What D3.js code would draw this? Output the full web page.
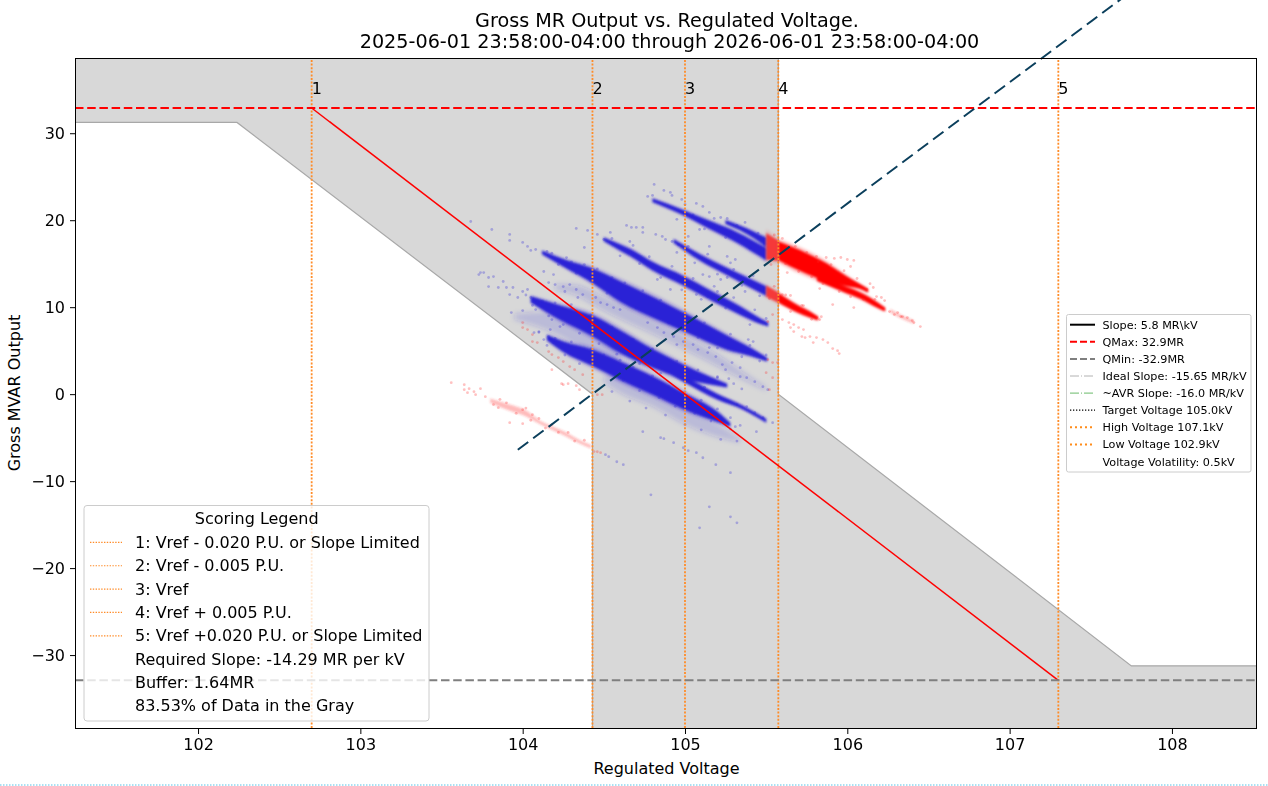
<!DOCTYPE html>
<html><head><meta charset="utf-8">
<script src="https://cdn.jsdelivr.net/npm/d3@7"></script>
<style>
html,body{margin:0;padding:0;background:#fff;overflow:hidden}
svg{display:block}
text{font-family:"DejaVu Sans",sans-serif;fill:#000}
</style></head><body>
<svg id="c" width="1268" height="786"></svg>
<script>
// ---- chart values ----
const titleLines = ["Gross MR Output vs. Regulated Voltage.", "2025-06-01 23:58:00-04:00 through 2026-06-01 23:58:00-04:00"];
const xDomain = [101.242, 108.524];
const yDomain = [-38.5, 38.65];
const xTickValues = [102,103,104,105,106,107,108];
const yTickValues = [-30,-20,-10,0,10,20,30];
const qMax = 32.9, qMin = -32.9;
const scoreX = [102.7,104.43,105,105.575,107.3];
const scoreLabels = ["1","2","3","4","5"];
const grayRegion = [[101.242,38.65],[105.575,38.65],[105.575,0],[107.75,-31.24],[108.524,-31.24],[108.524,-38.5],[104.43,-38.5],[104.43,0],[102.24,31.24],[101.242,31.24]];
const requiredLine = [[102.7,32.9],[107.3,-32.9]];
const slopeLine = [[103.97,-6.4],[107.72,45.9]];
const rightLegendLabels = ["Slope: 5.8 MR\\kV","QMax: 32.9MR","QMin: -32.9MR","Ideal Slope: -15.65 MR/kV","~AVR Slope: -16.0 MR/kV","Target Voltage 105.0kV","High Voltage 107.1kV","Low Voltage 102.9kV","Voltage Volatility: 0.5kV"];
const leftLegendTitle = "Scoring Legend";
const leftLegendLabels = ["1: Vref - 0.020 P.U. or Slope Limited","2: Vref - 0.005 P.U.","3: Vref","4: Vref + 0.005 P.U.","5: Vref +0.020 P.U. or Slope Limited","Required Slope: -14.29 MR per kV","Buffer: 1.64MR","83.53% of Data in the Gray"];

// dense runs of the scatter: [voltage, MVAR, half-thickness in MVAR]
const blueRuns = [
 [[104.8,22.3,.1],[104.988,20.89,.25],[105.173,19.28,.4],[105.321,18.01,.5],[105.5,16.1,.6]],
 [[105.25,19.8,.12],[105.42,18.36,.3],[105.5,17.44,.45]],
 [[104.93,17.6,.15],[105.093,15.71,.3],[105.259,14.1,.35],[105.37,13.06,.4],[105.5,11.85,.45]],
 [[104.5,17.8,.12],[104.6,16.86,.3],[104.662,16.29,.35],[104.803,14.68,.4],[104.988,13.06,.45],[105.173,11.22,.45],[105.34,9.61,.4],[105.432,8.69,.3],[105.512,8.0,.15]],
 [[104.12,16.28,.15],[104.274,14.9,.4],[104.428,13.64,.7],[104.6,11.8,1.0],[104.847,9.6,1.0],[105.001,8.23,.9],[105.259,5.93,.7],[105.401,4.89,.4],[105.506,3.97,.15]],
 [[104.05,10.9,.3],[104.23,9.38,.7],[104.428,7.88,1.0],[104.6,6.04,1.1],[104.803,4.09,.9],[104.988,2.59,.7],[105.136,1.67,.4],[105.259,.98,.12]],
 [[104.92,2.4,.15],[104.988,1.78,.25],[105.198,-.29,.25],[105.358,-1.55,.15],[105.5,-3.05,.08]],
 [[104.15,6.5,.25],[104.249,5.47,.5],[104.428,4.2,.8],[104.6,2.7,.9],[104.803,.98,.9],[104.988,-.75,.8],[105.198,-2.59,.5],[105.278,-3.51,.15]]
];
// thin clouds beside the dense runs
const blueHaze = [
 [[104.5,1.7,.3],[104.6,1.09,.8],[104.803,-.4,.9],[105.0,-2.47,.9],[105.259,-4.66,.5],[105.34,-5.35,.1]],
 [[104.2,12.3,.3],[104.32,12.0,.5],[104.5,10.4,.7],[104.77,8.0,.7],[105.0,5.9,.7],[105.2,3.9,.6],[105.35,2.2,.4],[105.5,.6,.1]],
 [[103.95,8.9,.3],[104.15,8.4,.9],[104.43,6.2,1.3],[104.6,4.6,1.0]]
];
const redRunsInGray = [
 [[105.5,17.0,1.3],[105.575,16.5,1.0]],
 [[105.5,11.85,.55],[105.575,11.1,.5]]
];
const redRuns = [
 [[105.575,16.5,.9],[105.709,15.36,1.0],[105.876,13.98,.85],[105.987,13.06,.5],[106.079,12.37,.22],[106.128,11.9,.06]],
 [[105.814,13.4,.3],[105.974,12.14,.3],[106.079,11.34,.3],[106.19,10.19,.25],[106.233,9.72,.08]],
 [[105.575,11.1,.45],[105.691,9.84,.35],[105.771,9.15,.28],[105.82,8.69,.12]]
];
const redHaze = [
 [[103.8,-.75,.2],[103.92,-1.55,.3],[104.01,-2.13,.3],[104.11,-3.28,.15],[104.26,-4.55,.2],[104.35,-5.47,.15],[104.42,-6.04,.1]],
 [[106.264,9.6,.08],[106.33,8.92,.12],[106.41,8.3,.12]]
];
// individual scattered readings
const bluePointsX = [103.68,103.81,103.92,103.92,104.0,104.03,104.08,104.05,104.33,104.4,104.38,103.74,103.76,103.73,103.79,103.79,103.82,103.88,103.85,103.9,103.92,103.94,104.0,103.97,104.03,104.05,104.09,104.0,103.93,104.08,104.16,104.2,104.25,104.29,104.33,104.26,104.37,104.45,104.34,104.48,104.52,104.56,104.6,104.3,104.13,104.19,104.77,104.83,104.87,104.93,104.99,104.95,105.05,105.08,105.14,105.19,105.15,105.23,105.29,105.34,105.25,105.42,105.39,105.34,105.38,105.43,105.48,105.51,105.27,105.2,105.32,105.38,105.43,105.48,105.54,105.31,105.44,104.74,104.85,104.87,104.93,104.99,105.02,105.07,105.11,105.19,105.28,104.79,105.15,105.28,105.32,105.09,104.51,104.53,104.58,104.62,104.77,104.8,104.81,104.87,104.91,104.92,104.98,105.0,105.07,105.11,105.15,105.22,105.26,105.37,105.09,104.64,104.67,104.7,104.74,104.74,104.82,104.86,104.88,104.92,104.96,105.02,105.15,105.26,105.31,105.11,105.15,105.26,105.22,105.3,104.83,104.91,105.07,105.14,105.2,105.37,104.46,104.5,104.54,104.66,104.16,104.13,104.19,104.07,104.1,104.17,104.23,104.18];
const bluePointsY = [19.85,18.93,18.36,17.67,17.44,16.98,16.63,16.52,19.05,18.82,16.86,13.98,13.98,13.75,13.41,12.37,13.52,12.95,12.26,12.26,11.45,12.26,11.8,11.11,12.03,11.11,10.65,9.61,9.38,9.73,12.83,12.6,12.37,12.6,12.03,11.8,11.45,11.11,11.11,10.53,10.3,9.96,9.73,10.3,14.1,13.75,8.23,7.65,7.08,6.62,6.04,5.7,5.7,5.12,4.78,4.32,5.35,3.4,3.63,3.05,2.82,6.04,6.27,2.01,1.9,1.44,.86,.52,1.78,2.01,-1.21,-1.44,-2.13,-2.7,-3.28,-3.74,-4.32,-4.32,-5.0,-5.12,-5.58,-6.16,-6.5,-6.73,-7.31,-8.11,-9.03,-11.57,-12.95,-14.1,-14.79,-15.37,-6.96,-7.19,-7.77,-8.11,22.73,22.85,24.11,23.42,23.19,22.85,22.39,21.81,21.93,21.58,20.89,20.31,20.2,19.74,18.93,19.4,19.17,19.17,19.17,18.59,18.36,18.13,17.78,17.55,17.2,18.13,16.98,15.83,15.48,13.75,13.52,13.41,13.18,14.33,13.18,12.03,11.45,11.22,11.8,11.8,18.36,17.78,18.59,17.55,6.62,6.27,5.93,7.08,7.19,7.42,7.77,8.57];
const blueFringe = [[104.15,16.4],[104.18,16.2],[104.22,14.9],[104.27,15.7],[104.3,15.2],[104.33,13.9],[104.38,14.9],[104.42,13.0],[104.46,14.4],[104.52,11.6],[104.55,13.4],[104.63,12.8],[104.7,9.9],[104.74,11.9],[104.85,10.8],[104.9,8.2],[105.0,9.4],[105.08,6.5],[105.12,8.2],[105.2,5.3],[105.28,6.9],[105.35,4.3],[105.4,5.6],[105.46,3.8],[105.5,4.5],
[104.02,11.4],[104.06,10.2],[104.12,10.7],[104.16,9.0],[104.2,10.5],[104.25,8.0],[104.3,9.8],[104.35,7.0],[104.42,9.1],[104.47,5.8],[104.55,7.7],[104.58,4.6],[104.68,6.3],[104.72,3.5],[104.8,5.2],[104.85,2.4],[104.95,3.8],[105.0,1.4],[105.08,2.8],[105.12,.8],[105.2,1.9],[105.3,1.2],[105.35,.6],
[104.1,7.1],[104.15,5.6],[104.2,6.4],[104.26,4.5],[104.3,6.0],[104.35,3.5],[104.42,5.2],[104.5,4.5],[104.6,3.9],[104.68,3.1],[104.8,2.1],[104.9,.9],[105.0,.3],[105.1,-.7],[105.2,-1.7],[105.28,-2.7],[105.34,-3.6],
[104.55,.3],[104.62,1.6],[104.66,-.8],[104.72,.4],[104.76,-1.6],[104.84,-.4],[104.88,-2.4],[104.94,-1.4],[105.0,-3.5],[105.06,-2.2],[105.1,-4.1],[105.16,-3.1],[105.22,-5.2],[105.28,-4.0],[105.32,-5.4],
[104.55,17.9],[104.6,15.9],[104.68,17.1],[104.72,15.0],[104.78,15.8],[104.85,13.4],[104.92,14.7],[104.98,12.0],[105.05,13.3],[105.1,10.9],[105.18,12.4],[105.25,9.9],[105.3,11.1],[105.4,8.0],[105.43,9.7],[105.5,8.7],
[104.95,20.1],[105.05,20.6],[105.12,19.0],[105.18,20.2],[105.25,18.0],[105.32,19.4],[105.4,16.8],[105.45,18.5],
[104.95,16.3],[105.02,17.0],[105.06,15.1],[105.14,16.1],[105.2,13.8],[105.28,15.1],[105.35,12.5],[105.42,13.6],[105.46,11.3]];
const redPointsX = [103.56,103.64,103.64,103.67,103.7,103.66,103.71,103.74,103.77,103.85,103.92,104.0,104.0,104.06,104.24,104.28,104.33,104.35,104.46,104.48,104.0,104.06,104.09,104.16,104.18,104.22,104.25,104.29,104.32,104.37,104.18,104.25,104.46,104.49,104.0,104.03,104.06,105.51,105.54,105.51,105.54,105.57,105.54,105.52,105.5,105.6,105.64,105.67,105.67,105.7,105.73,105.72,105.77,105.74,105.81,105.85,105.79,105.88,105.91,105.94,105.95,105.65,105.81,105.87,105.92,105.96,106.0,106.04,106.02,105.6,105.65,105.63,105.91,105.83,106.04,106.21,106.23,106.16,106.12,106.18,106.26,106.29,106.33,106.37,106.4,106.45,106.31,106.34,106.41,105.73,105.83,105.81];
const redPointsY = [1.32,1.09,.52,.63,.29,.17,-.06,.63,-.29,-1.55,-3.28,-3.39,-1.78,-2.36,1.21,1.21,.98,.52,-6.62,-6.73,8.23,6.04,5.93,4.89,4.55,4.2,3.74,3.17,2.82,2.24,2.82,1.09,-.06,-.06,7.65,7.42,6.85,8.34,9.15,3.97,3.63,3.63,1.9,.52,2.47,8.57,8.23,8.0,7.19,7.65,7.42,6.62,6.62,6.5,6.5,6.27,5.93,5.93,5.24,5.0,4.66,7.65,15.83,15.71,15.6,15.71,15.48,15.37,14.68,11.45,11.34,13.98,10.3,12.14,9.96,11.11,10.76,12.26,12.03,11.22,9.5,9.15,8.92,8.8,8.46,7.77,9.38,8.92,8.23,10.19,8.57,8.8];
const redFringe = [[105.6,17.9],[105.62,15.0],[105.68,17.0],[105.7,14.1],[105.75,16.3],[105.78,13.5],[105.82,15.2],[105.85,12.7],[105.9,14.9],[105.95,11.8],[105.98,14.2],[106.02,11.2],[106.06,13.3],[106.1,10.9],[106.14,12.7],[106.17,10.9],[105.55,18.3],[105.53,14.9],[105.52,11.0],[105.55,12.4],[105.62,11.4],[105.65,9.5],[105.72,10.2],[105.78,8.6],[105.84,8.9],
[103.82,-1.2],[103.86,-.6],[103.9,-1.0],[103.96,-2.2],[104.02,-1.6],[104.05,-3.0],[104.1,-2.8],[104.14,-3.9],[104.18,-3.5],[104.22,-4.4],[104.28,-4.4],[104.32,-5.4],[104.38,-5.3],[104.44,-6.6]];

// ---- drawing ----
const W = 1268, H = 786, L = 75, R = 1257, T = 58, B = 729;
const svg = d3.select("#c");
const x = d3.scaleLinear().domain(xDomain).range([L,R]);
const y = d3.scaleLinear().domain(yDomain).range([B,T]);
const defs = svg.append("defs");
defs.append("clipPath").attr("id","plot").append("rect").attr("x",L).attr("y",T).attr("width",R-L).attr("height",B-T);
[["soft",1.0],["mid",1.8],["softer",2.6]].forEach(([id,s])=>{
  defs.append("filter").attr("id",id).attr("filterUnits","userSpaceOnUse").attr("x",L).attr("y",T).attr("width",R-L).attr("height",B-T)
    .append("feGaussianBlur").attr("stdDeviation",s);
});
const g = svg.append("g").attr("clip-path","url(#plot)");
const line = d3.line().x(d=>x(d[0])).y(d=>y(d[1]));

g.append("path").attr("d",line(grayRegion)+"Z").attr("fill","#d8d8d8").attr("stroke","#a8a8a8").attr("stroke-width",1.2);

const thick = (d,k) => Math.max(d[2],.17)*k;
const band = k => d3.area().curve(d3.curveMonotoneX).x(d=>x(d[0])).y0(d=>y(d[1]-thick(d,k))).y1(d=>y(d[1]+thick(d,k)));
function runs(data,color,core,fringe,filter){
  const s = g.append("g");
  if(fringe>0) s.append("g").attr("filter","url(#mid)").selectAll("path").data(data).join("path").attr("d",band(1.5)).attr("fill",color).attr("opacity",fringe);
  s.append("g").attr("filter",`url(#${filter})`).selectAll("path").data(data).join("path").attr("d",band(1.18)).attr("fill",color).attr("opacity",core);
}
function dots(xs,ys,color,op){
  g.append("g").selectAll("circle").data(d3.range(xs.length)).join("circle")
   .attr("cx",i=>x(xs[i])).attr("cy",i=>y(ys[i])).attr("r",1.4).attr("fill",color).attr("opacity",op);
}
runs(blueHaze,"#2a24d6",.17,0,"softer");
runs(blueRuns,"#2a24d6",1,.3,"soft");
runs(redHaze,"#ff3030",.32,0,"soft");
dots(bluePointsX,bluePointsY,"#2a24d6",.3);
dots(blueFringe.map(d=>d[0]),blueFringe.map(d=>d[1]),"#2a24d6",.3);
runs(redRunsInGray,"#ff0000",.7,.12,"soft");
runs(redRuns,"#ff0000",1,.3,"soft");
dots(redPointsX,redPointsY,"#ff2020",.28);
dots(redFringe.map(d=>d[0]),redFringe.map(d=>d[1]),"#ff2020",.28);

// reference lines
g.selectAll("line.v").data(scoreX).join("line").attr("class","v")
 .attr("x1",d=>x(d)).attr("x2",d=>x(d)).attr("y1",T+2).attr("y2",B)
 .attr("stroke","#ff8c28").attr("stroke-width",1.8).attr("stroke-dasharray","2 1.6");
g.append("path").attr("d",line(requiredLine)).attr("stroke","#ff0000").attr("stroke-width",1.5).attr("fill","none");
[[qMax,"#ff0000"],[qMin,"#7f7f7f"]].forEach(([q,c])=>{
  g.append("line").attr("x1",L).attr("x2",R).attr("y1",y(q)).attr("y2",y(q)).attr("stroke",c).attr("stroke-width",2).attr("stroke-dasharray","8.5 3.7");
});
svg.append("path").attr("d",line(slopeLine)).attr("stroke","#0b3f5c").attr("stroke-width",2).attr("stroke-dasharray","13 6.2").attr("fill","none");

svg.selectAll("text.n").data(scoreX).join("text").attr("class","n")
 .attr("x",d=>x(d)).attr("y",94).attr("font-size",16).text((d,i)=>scoreLabels[i]);

// frame and axes
svg.append("rect").attr("x",L+.5).attr("y",T+.5).attr("width",R-L-1).attr("height",B-T-1).attr("fill","none").attr("stroke","#000").attr("stroke-width",1);
const ax = svg.append("g").attr("transform",`translate(0,${B})`).call(d3.axisBottom(x).tickValues(xTickValues).tickSize(5).tickPadding(5).tickFormat(d3.format("d")));
const ay = svg.append("g").attr("transform",`translate(${L},0)`).call(d3.axisLeft(y).tickValues(yTickValues).tickSize(5).tickPadding(5).tickFormat(d3.format("d")));
[ax,ay].forEach(a=>{a.select(".domain").remove();a.selectAll("text").attr("font-size",16).attr("font-family",'"DejaVu Sans"').attr("fill","#000");a.selectAll("line").attr("stroke","#000");});

svg.append("text").attr("x",666.5).attr("y",774).attr("text-anchor","middle").attr("font-size",16).text("Regulated Voltage");
svg.append("text").attr("transform","translate(20,393) rotate(-90)").attr("text-anchor","middle").attr("font-size",16).text("Gross MVAR Output");
svg.selectAll("text.t").data(titleLines).join("text").attr("class","t").attr("x",(d,i)=>667+i*2.5).attr("y",(d,i)=>27+i*21).attr("text-anchor","middle").attr("font-size",19.2).text(d=>d);

// left legend
svg.append("rect").attr("x",84).attr("y",505.5).attr("width",345).attr("height",215.5).attr("rx",3).attr("fill","#fff").attr("fill-opacity",.8).attr("stroke","#ccc").attr("stroke-width",1);
svg.append("text").attr("x",256.7).attr("y",524).attr("text-anchor","middle").attr("font-size",16).text(leftLegendTitle);
leftLegendLabels.forEach((t,i)=>{
  const yy = 542.4 + i*23.35;
  if(i<5) svg.append("line").attr("x1",90).attr("x2",122).attr("y1",yy).attr("y2",yy).attr("stroke","#ff8c28").attr("stroke-width",1.2).attr("stroke-dasharray","1.4 1.4");
  svg.append("text").attr("x",135).attr("y",yy+5.5).attr("font-size",16).text(t);
});

// right legend
svg.append("rect").attr("x",1066.5).attr("y",314.5).attr("width",184.5).attr("height",157.5).attr("rx",2).attr("fill","#fff").attr("fill-opacity",.8).attr("stroke","#ccc").attr("stroke-width",1);
const handleStroke = ["#000","#ff0000","#7f7f7f","#a9a9a9","#2a9d2a","#000","#ff8c1a","#ff8c1a",null];
const handleWidth = [2,2,2,.9,.7,1.2,2,2,0];
const handleDash = [null,"7 3","7 3","9 2 1 2 9","9 2 1 2 9","1.3 1.7","2 3","2 3",null];
rightLegendLabels.forEach((t,i)=>{
  const yy = 324.7 + i*17.1;
  if(handleStroke[i]) svg.append("line").attr("x1",1070).attr("x2",1095).attr("y1",yy).attr("y2",yy).attr("stroke",handleStroke[i]).attr("stroke-width",handleWidth[i]).attr("stroke-dasharray",handleDash[i]);
  svg.append("text").attr("x",1102.5).attr("y",yy+4).attr("font-size",11.2).text(t);
});

// dotted page rule at the bottom edge
svg.append("line").attr("x1",0).attr("x2",W).attr("y1",785).attr("y2",785).attr("stroke","#8fd6f0").attr("stroke-width",1.5).attr("stroke-dasharray","1.5 1.5");
</script>
</body></html>
